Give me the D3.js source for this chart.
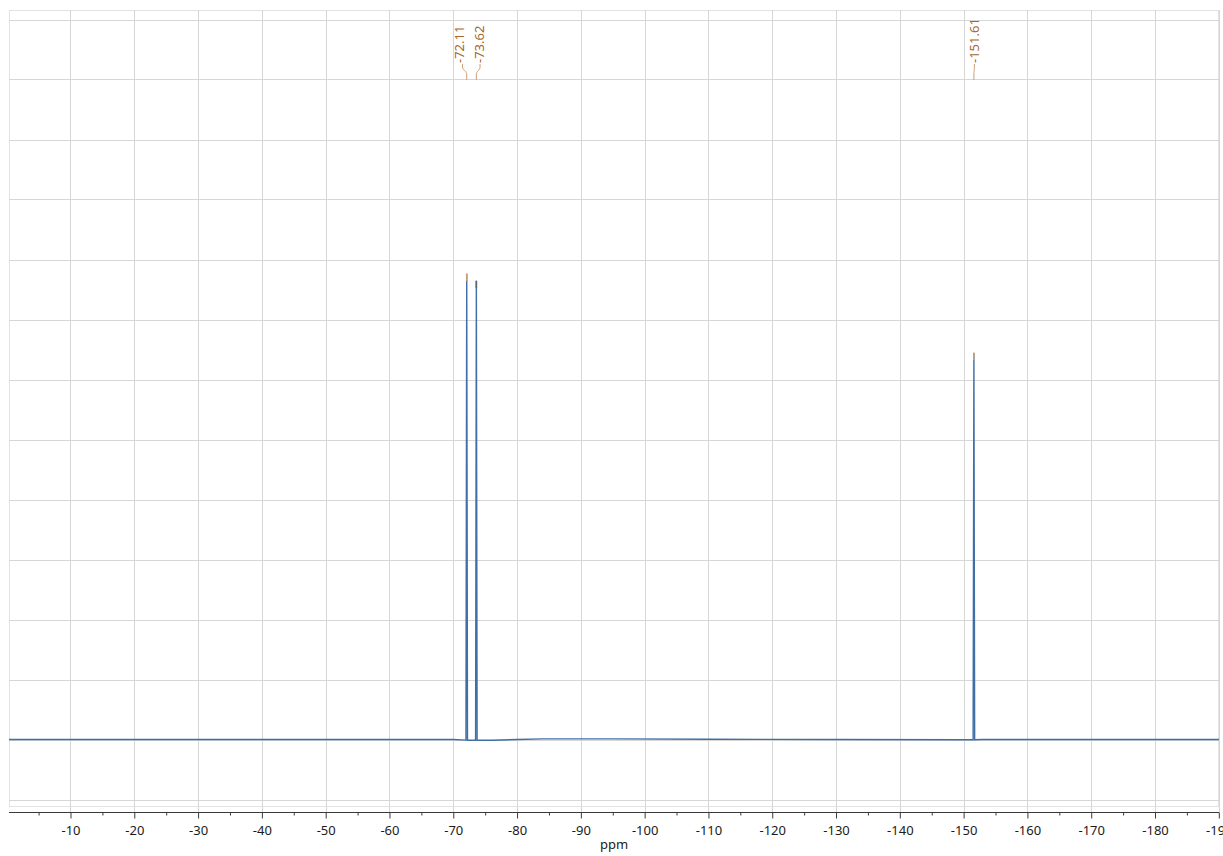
<!DOCTYPE html>
<html>
<head>
<meta charset="utf-8">
<script src="https://cdn.jsdelivr.net/npm/d3@7"></script>
<style>
  html, body { margin: 0; padding: 0; background: #fff; }
  svg { display: block; font-family: "Noto Sans", "Open Sans", sans-serif; }
</style>
</head>
<body>
<svg id="chart" width="1223" height="856"></svg>
<script>
// ---------- data ----------
const specPpm = [0.4, -20, -50, -70, -71.99, -72.11, -72.23, -73.50, -73.62, -73.74, -76, -80, -84, -95, -110, -130, -150, -151.49, -151.61, -151.73, -153, -170, -190.5];
const specInt = [0, 0, 0, 0, -0.01, 7.76, -0.012, -0.012, 7.64, -0.013, -0.013, 0.0, 0.01, 0.01, 0.005, 0, -0.005, -0.005, 6.44, -0.005, 0, 0, 0];

const peakLabels = ["-72.11", "-73.62", "-151.61"];
const peakPpm = [-72.11, -73.62, -151.61];
const peakHeight = [7.76, 7.64, 6.44];

const majorTicks = [-10, -20, -30, -40, -50, -60, -70, -80, -90, -100, -110, -120, -130, -140, -150, -160, -170, -180, -190];
const tickLabels = ["-10", "-20", "-30", "-40", "-50", "-60", "-70", "-80", "-90", "-100", "-110", "-120", "-130", "-140", "-150", "-160", "-170", "-180", "-190"];
const minorTicks = [-5, -15, -25, -35, -45, -55, -65, -75, -85, -95, -105, -115, -125, -135, -145, -155, -165, -175, -185];
const gridLevels = [-1, 0, 1, 2, 3, 4, 5, 6, 7, 8, 9, 10, 11, 12];
const axisTitle = "ppm";

(function () {
// ---------- layout ----------
const L = 9, R = 1219, T = 10, B = 806, axisY = 812.5;
const svg = d3.select("#chart");
svg.append("rect").attr("width", 1223).attr("height", 856).attr("fill", "#fff");

const x = d3.scaleLinear().domain([0, -190]).range([6.7, 1218.8]);
const y = d3.scaleLinear().domain([-1, 12]).range([799.5, 19.5]);

svg.append("defs").append("clipPath").attr("id", "plotclip")
  .append("rect").attr("x", L).attr("y", T).attr("width", R - L).attr("height", B - T);

// frame
svg.append("rect").attr("x", L + 0.5).attr("y", T + 0.5)
  .attr("width", R - L - 1).attr("height", B - T)
  .attr("fill", "none").attr("stroke", "#e3e3e3").attr("stroke-width", 1);

// horizontal grid
svg.append("g").selectAll("line").data(gridLevels).join("line")
  .attr("x1", L).attr("x2", R)
  .attr("y1", d => Math.round(y(d)) + 0.5).attr("y2", d => Math.round(y(d)) + 0.5)
  .attr("stroke", "#d6d6d6").attr("stroke-width", 1);

// vertical grid
svg.append("g").selectAll("line").data(majorTicks).join("line")
  .attr("x1", d => Math.round(x(d)) + 0.5).attr("x2", d => Math.round(x(d)) + 0.5)
  .attr("y1", T).attr("y2", axisY)
  .attr("stroke", "#d6d6d6").attr("stroke-width", 1);

// spectrum
const plot = svg.append("g").attr("clip-path", "url(#plotclip)");
const spec = specPpm.map((p, i) => [p, specInt[i]]);
plot.append("path").datum(spec)
  .attr("fill", "none").attr("stroke", "#3f6fa6").attr("stroke-width", 1.4)
  .attr("d", d3.line().x(d => x(d[0])).y(d => y(d[1])));

// peak top markers
plot.selectAll("line.cap").data(peakPpm).join("line").attr("class", "cap")
  .attr("x1", d => x(d)).attr("x2", d => x(d))
  .attr("y1", (d, i) => y(peakHeight[i]) - 0.5)
  .attr("y2", (d, i) => y(peakHeight[i]) + 7)
  .attr("stroke", (d, i) => i === 1 ? "#5a6670" : "#c9a27a").attr("stroke-width", 1.6);

// peak labels: spread close labels apart
const px = peakPpm.map(p => x(p));
const lx = px.slice();
for (let i = 0; i < lx.length - 1; i++) {
  if (lx[i + 1] - lx[i] < 20) {
    const m = (lx[i] + lx[i + 1]) / 2 - 2;
    lx[i] = m - 10; lx[i + 1] = m + 10;
  }
}
const labColor = "#a9652a";
const lab = svg.append("g");
peakLabels.forEach((t, i) => {
  const cx = lx[i];
  lab.append("text")
    .attr("transform", `translate(${cx},63) rotate(-90)`)
    .attr("dy", "0.36em")
    .attr("text-anchor", "start")
    .attr("font-size", 13)
    .attr("fill", labColor)
    .text(t);
  const sx = cx + (i === 0 ? 3 : 0.5);
  const path = d3.path();
  path.moveTo(sx, 64);
  path.lineTo(sx, 67);
  path.bezierCurveTo(sx, 71, px[i], 70, px[i], 75);
  path.lineTo(px[i], 80);
  lab.append("path").attr("d", path.toString())
    .attr("fill", "none").attr("stroke", "#c8a07a").attr("stroke-width", 1);
});

// axis
svg.append("line").attr("x1", L).attr("x2", R).attr("y1", axisY).attr("y2", axisY)
  .attr("stroke", "#3a3a3a").attr("stroke-width", 1.2);

const axMajor = svg.append("g").attr("transform", `translate(0,${axisY})`)
  .call(d3.axisBottom(x).tickValues(majorTicks).tickSize(6).tickPadding(7)
    .tickFormat((d, i) => tickLabels[i]));
axMajor.select(".domain").remove();
axMajor.selectAll("line").attr("stroke", "#3a3a3a");
axMajor.selectAll("text").attr("font-size", 13).attr("fill", "#1b1b1b")
  .attr("font-family", "Noto Sans, Open Sans, sans-serif");

const axMinor = svg.append("g").attr("transform", `translate(0,${axisY})`)
  .call(d3.axisBottom(x).tickValues(minorTicks).tickSize(3).tickFormat(""));
axMinor.select(".domain").remove();
axMinor.selectAll("line").attr("stroke", "#3a3a3a");

svg.append("text").attr("x", (L + R) / 2).attr("y", 849)
  .attr("text-anchor", "middle").attr("font-size", 13).attr("fill", "#1b1b1b")
  .text(axisTitle);
})();
</script>
</body>
</html>
